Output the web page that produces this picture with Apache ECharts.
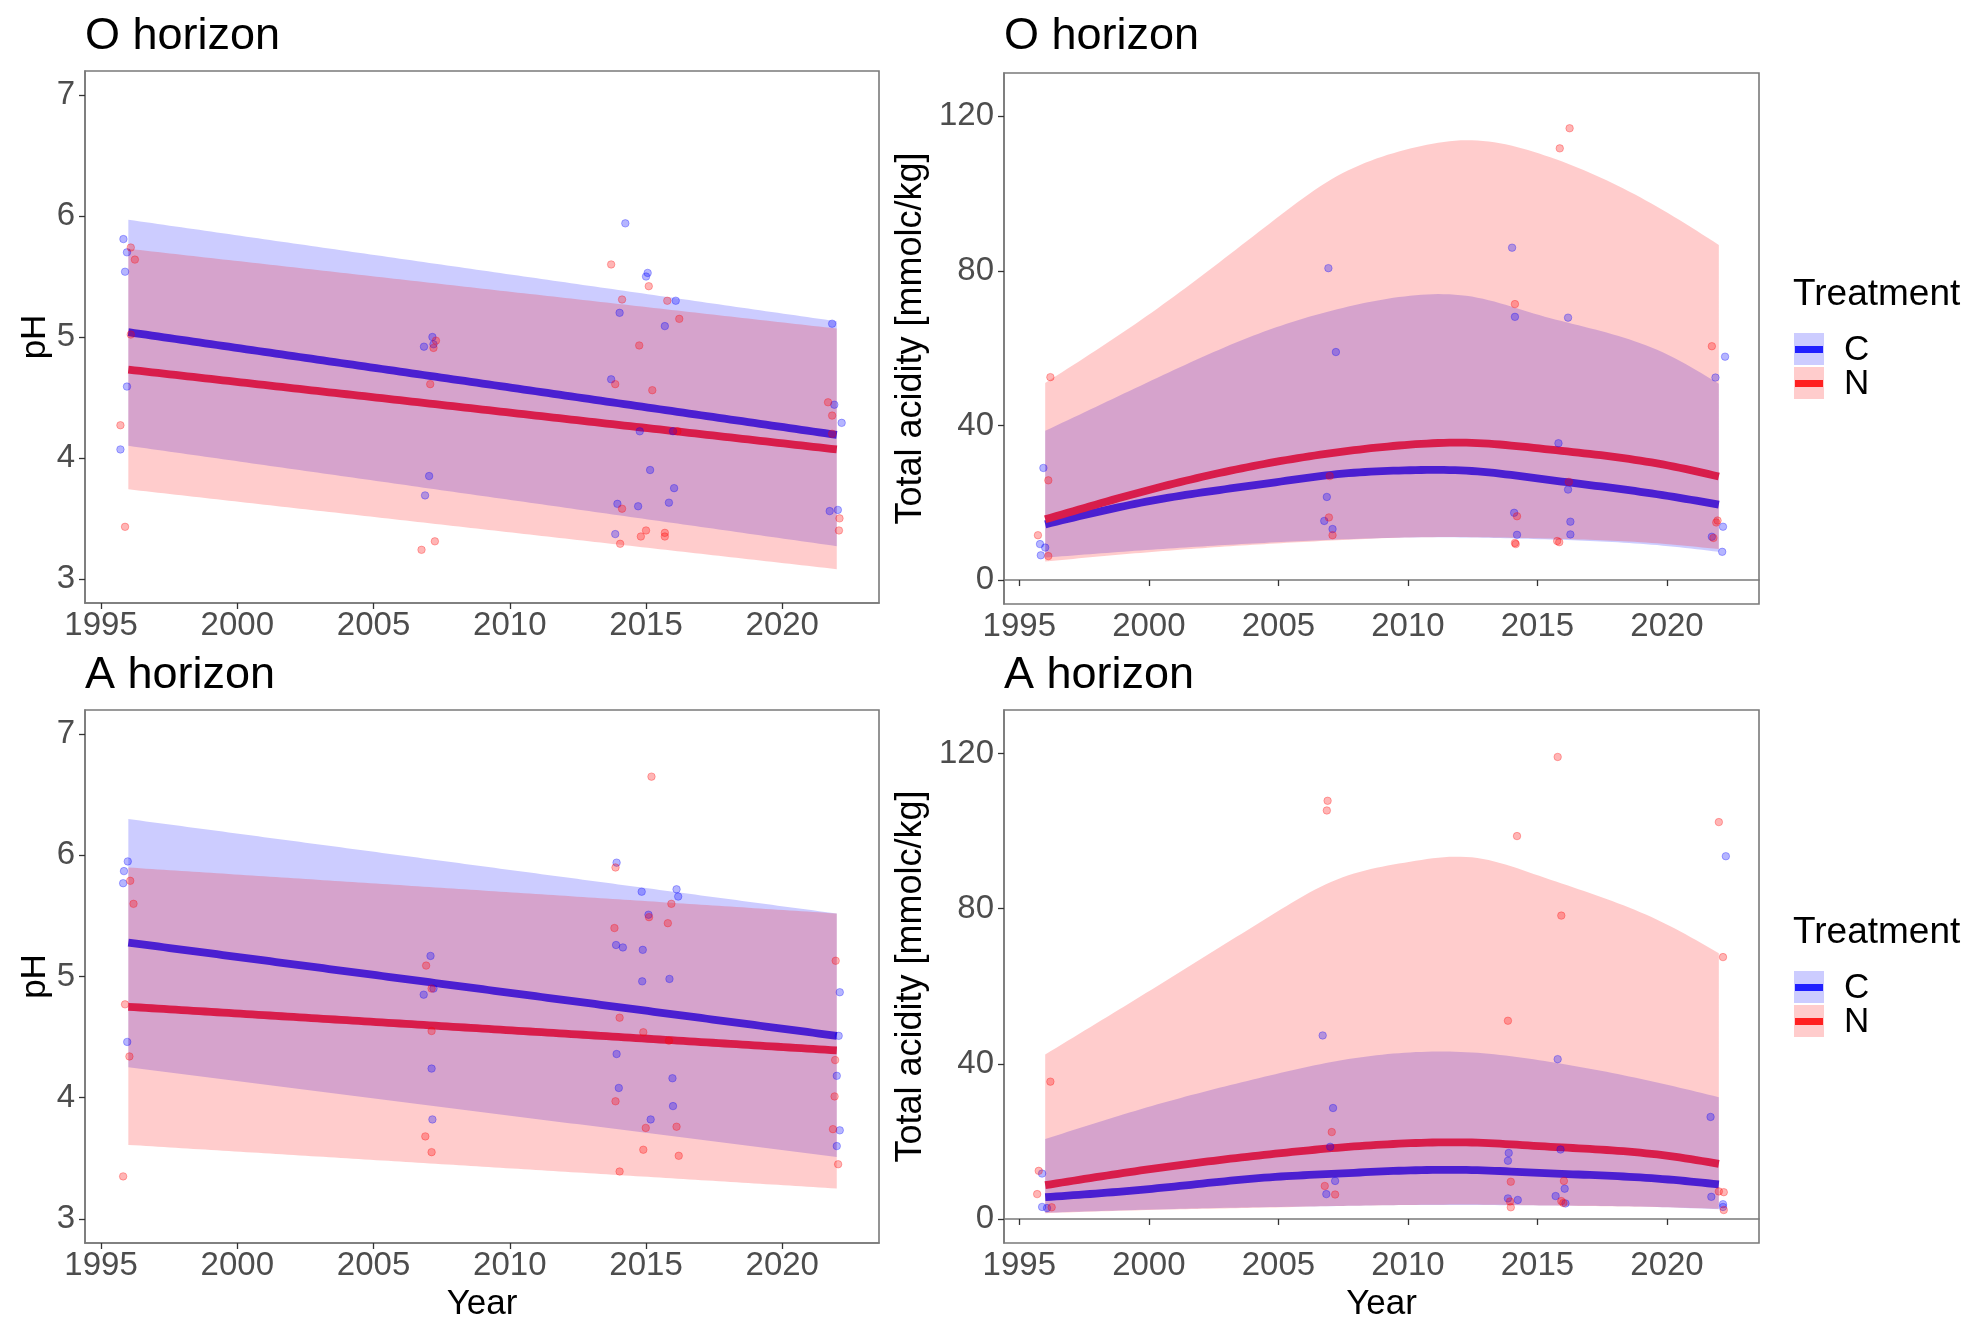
<!DOCTYPE html>
<html>
<head>
<meta charset="utf-8">
<script src="https://cdn.jsdelivr.net/npm/echarts@6/dist/echarts.min.js"></script>
<style>
html,body{margin:0;padding:0;background:#fff;}
#chart{width:1984px;height:1337px;}
</style>
</head>
<body>
<div id="chart"></div>
<script>
// ---------- tick labels ----------
const yearTicks = [1995, 2000, 2005, 2010, 2015, 2020];
const phTicks = [3, 4, 5, 6, 7];
const acidTicks = [0, 40, 80, 120];

// ---------- fitted curves ----------
const linYears = [1996, 2022];
const phO_C_fit = [5.04, 4.19], phO_C_lo = [4.10, 3.27], phO_C_hi = [5.97, 5.13];
const phO_N_fit = [4.73, 4.07], phO_N_lo = [3.74, 3.08], phO_N_hi = [5.73, 5.07];
const phA_C_fit = [5.28, 4.51], phA_C_lo = [4.25, 3.51], phA_C_hi = [6.30, 5.52];
const phA_N_fit = [4.75, 4.39], phA_N_lo = [3.61, 3.25], phA_N_hi = [5.90, 5.52];

const curveYears = [1996, 2000, 2005, 2007, 2010, 2012.5, 2015, 2020, 2022];
const taO_C_fit = [14.4, 20.4, 25.4, 27.2, 28.4, 28.2, 26.3, 21.8, 19.5];
const taO_C_lo  = [5.8, 7.8, 9.8, 10.4, 11.0, 11.0, 10.6, 8.8, 7.3];
const taO_C_hi  = [38.6, 51.3, 65.6, 69.6, 73.5, 73.3, 68.7, 58.4, 50.8];
const taO_N_fit = [15.7, 23.3, 30.7, 32.8, 35.0, 35.5, 34.1, 29.7, 26.8];
const taO_N_lo  = [4.8, 7.2, 9.5, 10.2, 11.0, 11.1, 10.8, 9.3, 8.0];
const taO_N_hi  = [51.0, 68.7, 94.0, 103.5, 111.5, 113.8, 110.5, 95.1, 86.7];

const taA_C_fit = [5.6, 7.7, 10.9, 11.6, 12.5, 12.6, 11.9, 10.2, 8.9];
const taA_C_lo  = [1.6, 2.4, 3.1, 3.3, 3.6, 3.6, 3.5, 3.0, 2.5];
const taA_C_hi  = [20.6, 28.9, 37.5, 40.4, 42.9, 42.9, 41.0, 34.6, 31.4];
const taA_N_fit = [8.7, 12.8, 16.9, 18.2, 19.5, 19.7, 18.8, 16.3, 14.2];
const taA_N_lo  = [1.5, 2.3, 3.0, 3.3, 3.6, 3.7, 3.5, 3.0, 2.6];
const taA_N_hi  = [42.4, 58.7, 79.4, 86.8, 92.0, 93.2, 88.6, 75.9, 68.5];

// ---------- observations (jittered year, value) ----------
const phO_C_pts = [[1995.82,5.81],[1995.95,5.70],[1995.88,5.54],[1995.95,4.59],[1995.71,4.07],[2007.16,5.00],[2006.85,4.92],[2007.2,4.94],[2007.04,3.85],[2006.89,3.69],[2014.24,5.94],[2015.06,5.53],[2015.0,5.50],[2014.03,5.20],[2015.69,5.09],[2016.09,5.30],[2013.72,4.65],[2014.77,4.22],[2015.99,4.22],[2015.15,3.90],[2016.03,3.75],[2013.95,3.62],[2014.71,3.60],[2015.84,3.63],[2013.87,3.37],[2021.83,5.11],[2021.91,4.44],[2022.18,4.29],[2021.74,3.56],[2022.04,3.57]];
const phO_N_pts = [[1996.09,5.74],[1996.24,5.64],[1996.09,5.02],[1995.71,4.27],[1995.88,3.43],[2007.29,4.97],[2007.2,4.91],[2007.08,4.61],[2007.25,3.31],[2006.76,3.24],[2013.72,5.60],[2015.1,5.42],[2014.12,5.31],[2015.78,5.30],[2016.22,5.15],[2014.75,4.93],[2013.87,4.61],[2015.23,4.56],[2016.15,4.22],[2014.12,3.58],[2014.05,3.29],[2015.0,3.40],[2014.81,3.35],[2015.69,3.38],[2015.69,3.35],[2021.68,4.46],[2021.83,4.35],[2021.83,4.20],[2022.1,3.50],[2022.08,3.40]];
const taO_C_pts = [[1995.93,29.0],[1995.8,9.3],[1996.0,8.4],[1995.83,6.4],[2006.93,80.7],[2007.22,59.0],[2006.87,21.5],[2006.77,15.3],[2007.09,13.2],[2014.02,86.0],[2014.13,68.1],[2014.1,17.4],[2014.21,11.7],[2015.81,35.4],[2016.18,67.9],[2016.18,23.4],[2016.27,15.1],[2016.27,11.8],[2021.87,52.4],[2022.24,57.8],[2022.16,13.8],[2021.73,11.2],[2022.13,7.3]];
const taO_N_pts = [[1996.2,52.5],[1996.12,25.8],[1995.72,11.6],[1996.12,6.2],[2006.98,26.9],[2006.95,16.2],[2007.09,11.6],[2014.13,71.4],[2014.21,16.5],[2014.13,9.6],[2014.16,9.3],[2015.86,111.7],[2016.24,116.9],[2016.21,25.4],[2015.76,10.1],[2015.84,9.8],[2021.73,60.5],[2021.95,15.4],[2021.9,14.9],[2021.79,10.9]];
const phA_C_pts = [[1995.98,5.95],[1995.84,5.87],[1995.81,5.77],[1995.96,4.46],[2007.09,5.17],[2006.84,4.85],[2007.2,4.90],[2007.13,4.24],[2007.16,3.82],[2013.92,5.94],[2014.84,5.70],[2016.12,5.72],[2016.18,5.66],[2015.09,5.51],[2013.9,5.26],[2014.15,5.24],[2014.88,5.22],[2014.86,4.96],[2015.86,4.98],[2013.92,4.36],[2014.0,4.08],[2015.97,4.16],[2015.99,3.93],[2015.17,3.82],[2022.11,4.87],[2022.07,4.51],[2022.0,4.18],[2022.11,3.73],[2022.0,3.60]];
const phA_N_pts = [[1996.07,5.79],[1996.19,5.60],[1995.88,4.77],[1996.04,4.34],[1995.81,3.35],[2006.93,5.09],[2007.13,4.90],[2007.13,4.55],[2006.9,3.68],[2007.13,3.55],[2015.2,6.65],[2013.88,5.90],[2013.84,5.40],[2015.11,5.49],[2015.93,5.60],[2015.8,5.44],[2014.03,4.66],[2014.9,4.54],[2015.84,4.47],[2013.88,3.97],[2014.99,3.75],[2016.12,3.76],[2014.9,3.57],[2016.2,3.52],[2014.03,3.39],[2021.96,5.13],[2021.94,4.31],[2021.92,4.01],[2021.86,3.74],[2022.05,3.45]];
const taA_C_pts = [[1995.88,11.7],[1995.88,3.1],[1996.07,2.8],[2006.71,47.3],[2007.11,28.6],[2007.0,18.6],[2007.19,9.8],[2006.85,6.4],[2013.89,17.0],[2013.86,15.0],[2013.86,5.3],[2014.24,4.9],[2015.78,41.2],[2015.89,17.9],[2016.05,7.8],[2015.7,5.9],[2016.08,4.0],[2022.27,93.5],[2021.68,26.3],[2021.71,5.7],[2022.16,3.8],[2022.16,3.1]];
const taA_N_pts = [[1995.75,12.4],[1995.69,6.4],[1996.2,35.4],[1996.25,3.0],[2006.9,107.8],[2006.87,105.3],[2007.06,22.4],[2006.79,8.5],[2007.19,6.3],[2014.21,98.7],[2013.86,51.1],[2013.97,9.6],[2013.94,4.5],[2013.97,3.0],[2015.78,119.1],[2015.92,78.2],[2016.02,9.8],[2015.92,4.6],[2016.0,4.1],[2022.0,102.3],[2022.16,67.5],[2022.0,7.1],[2022.19,6.9],[2022.19,2.3]];

// ---------- styling ----------
const FONT = 'Liberation Sans, Arial, sans-serif';
const ribbonC = 'rgba(0,0,255,0.2)';
const ribbonN = 'rgba(255,0,0,0.2)';
const lineC = '#4b1fd1';
const lineN = '#d81d4b';
const ptC = 'rgba(0,0,255,0.36)';
const ptN = 'rgba(255,0,0,0.36)';

const grids = [
  {left: 85, top: 71, width: 794, height: 532},
  {left: 1004, top: 73, width: 755, height: 531},
  {left: 85, top: 710, width: 794, height: 533},
  {left: 1004, top: 710, width: 755, height: 533}
];

function xAxisDef(i, withName) {
  return {
    type: 'value', gridIndex: i, min: 1994.41, max: 2023.55,
    name: withName ? 'Year' : '', nameLocation: 'middle', nameGap: 44,
    nameTextStyle: {color: '#000', fontSize: 35, fontFamily: FONT},
    axisLine: {show: true, lineStyle: {color: '#7a7a7a', width: 1.6}},
    axisTick: {show: true, length: 6, customValues: yearTicks, lineStyle: {color: '#333', width: 1.3}},
    axisLabel: {show: true, margin: 6, customValues: yearTicks, formatter: v => String(v), color: '#4d4d4d', fontSize: 33, fontFamily: FONT},
    splitLine: {show: false}
  };
}
function yAxisDef(i, isPH) {
  const ticks = isPH ? phTicks : acidTicks;
  return {
    type: 'value', gridIndex: i,
    min: isPH ? 2.8 : -6.2, max: isPH ? 7.2 : 131.2,
    name: isPH ? 'pH' : 'Total acidity [mmolc/kg]', nameLocation: 'middle', nameRotate: 90,
    nameGap: isPH ? 31 : 75,
    nameTextStyle: {color: '#000', fontSize: isPH ? 35 : 36, fontFamily: FONT},
    axisLine: {show: true, lineStyle: {color: '#7a7a7a', width: 1.6}},
    axisTick: {show: true, length: 6, customValues: ticks, lineStyle: {color: '#333', width: 1.3}},
    axisLabel: {show: true, margin: 10, customValues: ticks, formatter: v => String(v), color: '#4d4d4d', fontSize: 33, fontFamily: FONT},
    splitLine: {show: false}
  };
}

// natural cubic spline through the read points (drawing helper only)
function makeSpline(xs, ys) {
  const n = xs.length;
  if (n < 3) {
    return x => ys[0] + (ys[n - 1] - ys[0]) * (x - xs[0]) / (xs[n - 1] - xs[0]);
  }
  const h = [], al = [], l = [1], mu = [0], z = [0], c = new Array(n).fill(0), b = [], d = [];
  for (let i = 0; i < n - 1; i++) h.push(xs[i + 1] - xs[i]);
  for (let i = 1; i < n - 1; i++) al[i] = 3 / h[i] * (ys[i + 1] - ys[i]) - 3 / h[i - 1] * (ys[i] - ys[i - 1]);
  for (let i = 1; i < n - 1; i++) {
    l[i] = 2 * (xs[i + 1] - xs[i - 1]) - h[i - 1] * mu[i - 1];
    mu[i] = h[i] / l[i];
    z[i] = (al[i] - h[i - 1] * z[i - 1]) / l[i];
  }
  for (let j = n - 2; j >= 0; j--) {
    c[j] = (j === 0 ? 0 : z[j]) - (j === 0 ? 0 : mu[j]) * c[j + 1];
    b[j] = (ys[j + 1] - ys[j]) / h[j] - h[j] * (c[j + 1] + 2 * c[j]) / 3;
    d[j] = (c[j + 1] - c[j]) / (3 * h[j]);
  }
  return function (x) {
    let j = 0;
    while (j < n - 2 && x > xs[j + 1]) j++;
    const t = x - xs[j];
    return ys[j] + b[j] * t + c[j] * t * t + d[j] * t * t * t;
  };
}
function sampleXs(xs) {
  const out = [], steps = 120;
  for (let s = 0; s <= steps; s++) out.push(xs[0] + (xs[xs.length - 1] - xs[0]) * s / steps);
  return out;
}

function ribbonSeries(i, years, lo, hi, fill, name) {
  const fLo = makeSpline(years, lo), fHi = makeSpline(years, hi), sx = sampleXs(years);
  return {
    type: 'custom', name: name, xAxisIndex: i, yAxisIndex: i, silent: true, z: 1,
    data: years.map((y, k) => [y, lo[k], hi[k]]),
    encode: {x: 0, y: [1, 2]},
    renderItem: function (params, api) {
      if (params.dataIndex !== 0) return null;
      const up = sx.map(x => api.coord([x, fHi(x)]));
      const dn = sx.map(x => api.coord([x, fLo(x)])).reverse();
      return {type: 'polygon', shape: {points: up.concat(dn)}, style: {fill: fill, stroke: null}};
    }
  };
}
function fitSeries(i, years, fit, color, name) {
  const f = makeSpline(years, fit), sx = sampleXs(years);
  return {
    type: 'custom', name: name, xAxisIndex: i, yAxisIndex: i, silent: true, z: 2,
    data: years.map((y, k) => [y, fit[k]]),
    encode: {x: 0, y: 1},
    renderItem: function (params, api) {
      if (params.dataIndex !== 0) return null;
      const pts = sx.map(x => api.coord([x, f(x)]));
      return {type: 'polyline', shape: {points: pts}, style: {stroke: color, lineWidth: 7.8, fill: null, lineCap: 'butt', lineJoin: 'round'}};
    }
  };
}

function panelSeries(i, years, C, N, ptsC, ptsN) {
  return [
    ribbonSeries(i, years, C.lo, C.hi, ribbonC, 'C ribbon'),
    ribbonSeries(i, years, N.lo, N.hi, ribbonN, 'N ribbon'),
    fitSeries(i, years, C.fit, lineC, 'C'),
    fitSeries(i, years, N.fit, lineN, 'N'),
    {type: 'scatter', name: 'C', xAxisIndex: i, yAxisIndex: i, data: ptsC, symbolSize: 7.5,
     itemStyle: {color: ptC, borderColor: ptC, borderWidth: 1}, z: 3},
    {type: 'scatter', name: 'N', xAxisIndex: i, yAxisIndex: i, data: ptsN, symbolSize: 7.5,
     itemStyle: {color: ptN, borderColor: ptN, borderWidth: 1}, z: 3}
  ];
}

const series = [].concat(
  panelSeries(0, linYears, {fit: phO_C_fit, lo: phO_C_lo, hi: phO_C_hi}, {fit: phO_N_fit, lo: phO_N_lo, hi: phO_N_hi}, phO_C_pts, phO_N_pts),
  panelSeries(1, curveYears, {fit: taO_C_fit, lo: taO_C_lo, hi: taO_C_hi}, {fit: taO_N_fit, lo: taO_N_lo, hi: taO_N_hi}, taO_C_pts, taO_N_pts),
  panelSeries(2, linYears, {fit: phA_C_fit, lo: phA_C_lo, hi: phA_C_hi}, {fit: phA_N_fit, lo: phA_N_lo, hi: phA_N_hi}, phA_C_pts, phA_N_pts),
  panelSeries(3, curveYears, {fit: taA_C_fit, lo: taA_C_lo, hi: taA_C_hi}, {fit: taA_N_fit, lo: taA_N_lo, hi: taA_N_hi}, taA_C_pts, taA_N_pts)
);

function legendGroup(dy) {
  return {
    type: 'group', children: [
      {type: 'text', style: {x: 1793, y: 295 + dy, text: 'Treatment', font: '37px ' + FONT, fill: '#000', verticalAlign: 'middle'}},
      {type: 'rect', shape: {x: 1794, y: 333 + dy, width: 30, height: 32}, style: {fill: ribbonC}},
      {type: 'rect', shape: {x: 1795, y: 346 + dy, width: 28, height: 7}, style: {fill: '#2020ff'}},
      {type: 'rect', shape: {x: 1794, y: 367 + dy, width: 30, height: 32}, style: {fill: ribbonN}},
      {type: 'rect', shape: {x: 1795, y: 380 + dy, width: 28, height: 7}, style: {fill: '#ff2020'}},
      {type: 'text', style: {x: 1844, y: 350 + dy, text: 'C', font: '35px ' + FONT, fill: '#000', verticalAlign: 'middle'}},
      {type: 'text', style: {x: 1844, y: 384 + dy, text: 'N', font: '35px ' + FONT, fill: '#000', verticalAlign: 'middle'}}
    ]
  };
}

const titleStyle = {fontSize: 45, fontWeight: 'normal', color: '#000', fontFamily: FONT, lineHeight: 45};
const chart = echarts.init(document.getElementById('chart'), null, {renderer: 'canvas'});
chart.setOption({
  animation: false,
  backgroundColor: '#ffffff',
  title: [
    {text: 'O horizon', left: 85, top: 14, padding: 0, textStyle: titleStyle},
    {text: 'O horizon', left: 1004, top: 14, padding: 0, textStyle: titleStyle},
    {text: 'A horizon', left: 85, top: 653, padding: 0, textStyle: titleStyle},
    {text: 'A horizon', left: 1004, top: 653, padding: 0, textStyle: titleStyle}
  ],
  grid: grids.map(g => Object.assign({show: true, borderColor: '#7a7a7a', borderWidth: 1.6, backgroundColor: 'transparent'}, g)),
  xAxis: [xAxisDef(0, false), xAxisDef(1, false), xAxisDef(2, true), xAxisDef(3, true)],
  yAxis: [yAxisDef(0, true), yAxisDef(1, false), yAxisDef(2, true), yAxisDef(3, false)],
  graphic: [legendGroup(0), legendGroup(638)],
  series: series
});
</script>
</body>
</html>
